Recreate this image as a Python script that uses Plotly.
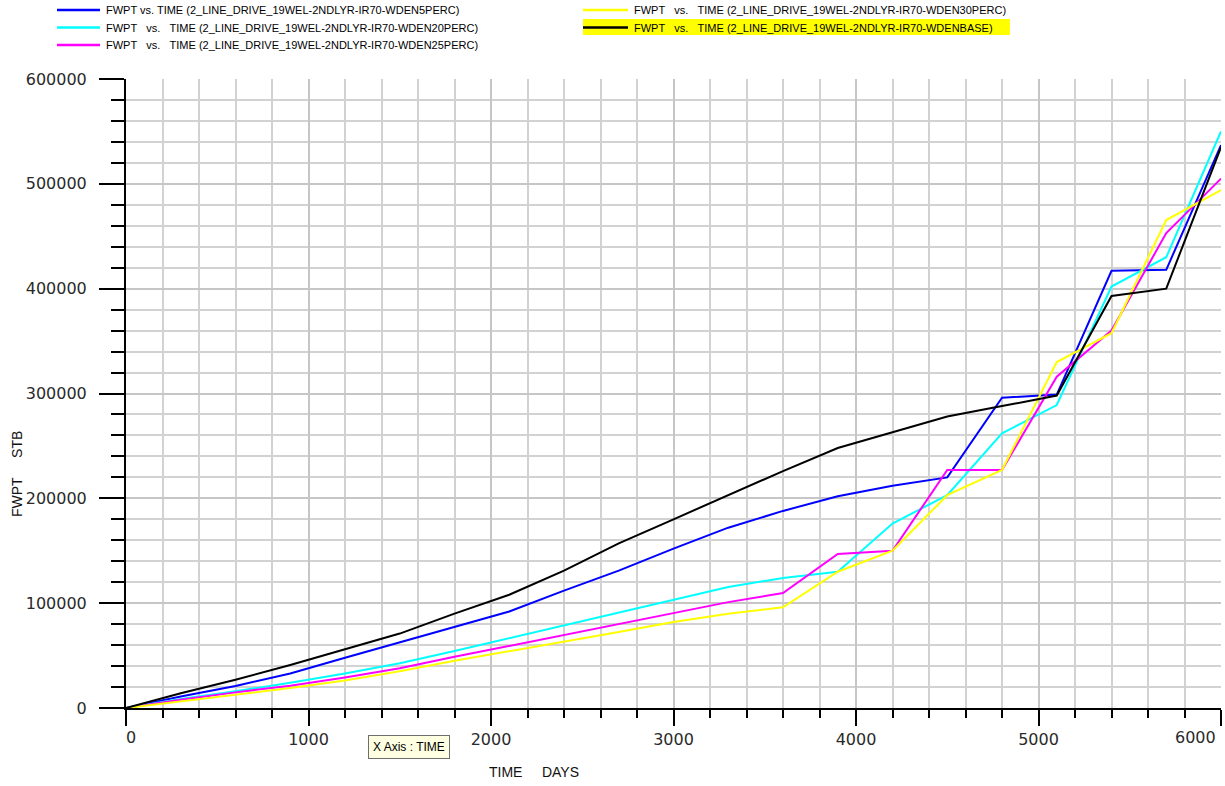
import plotly.graph_objects as go

# Simulation report times (days)
time_days = [0, 300, 600, 900, 1200, 1500, 1800, 2100, 2400, 2700, 3000,
             3300, 3600, 3900, 4200, 4500, 4800, 5100, 5400, 5700, 6000]

# Field water production total (STB) per case
fwpt_wden5 = [0, 11000, 21000, 33000, 48000, 62500, 77000, 92000, 112000, 131000, 152000,
              172000, 188000, 202000, 212000, 220000, 296000, 299000, 417000, 418000, 537000]
fwpt_wden20 = [0, 8600, 16000, 24000, 33000, 42700, 54400, 66600, 78800, 91000, 103000,
               115500, 124000, 130000, 176000, 203000, 262000, 289000, 402000, 430000, 550000]
fwpt_wden25 = [0, 7900, 14900, 21300, 29200, 38000, 48800, 59200, 69700, 80000, 90500,
               101000, 109600, 147000, 150000, 227000, 227000, 316000, 360000, 453000, 505000]
fwpt_wden30 = [0, 6300, 12700, 19000, 26300, 35000, 45000, 54000, 63000, 72500, 82000,
               90000, 96000, 130000, 150000, 203000, 227000, 330000, 357500, 465500, 494000]
fwpt_wdenbase = [0, 14000, 27000, 41000, 56000, 71000, 90000, 108000, 131000, 157000, 180000,
                 203000, 226000, 248000, 263000, 278000, 288000, 298000, 393000, 400000, 535000]

SP3 = "\u00a0\u00a0\u00a0"
series_names = [
    "FWPT vs. TIME (2_LINE_DRIVE_19WEL-2NDLYR-IR70-WDEN5PERC)",
    f"FWPT{SP3}vs.{SP3}TIME (2_LINE_DRIVE_19WEL-2NDLYR-IR70-WDEN20PERC)",
    f"FWPT{SP3}vs.{SP3}TIME (2_LINE_DRIVE_19WEL-2NDLYR-IR70-WDEN25PERC)",
    f"FWPT{SP3}vs.{SP3}TIME (2_LINE_DRIVE_19WEL-2NDLYR-IR70-WDEN30PERC)",
    f"FWPT{SP3}vs.{SP3}TIME (2_LINE_DRIVE_19WEL-2NDLYR-IR70-WDENBASE)",
]
series_values = [fwpt_wden5, fwpt_wden20, fwpt_wden25, fwpt_wden30, fwpt_wdenbase]
series_colors = ["#0000ff", "#00ffff", "#ff00ff", "#ffff00", "#000000"]

x_tick_vals = [0, 1000, 2000, 3000, 4000, 5000, 6000]
x_tick_text = ["", "1000", "2000", "3000", "4000", "5000", ""]

W, H = 1225, 786
ML, MR, MT, MB = 126, 4, 79, 78
PW, PH = W - ML - MR, H - MT - MB


def px(x):
    return (x - ML) / PW


def py(y):
    return (H - MB - y) / PH


fig = go.Figure()
for name, vals, col in zip(series_names, series_values, series_colors):
    fig.add_trace(go.Scatter(x=time_days, y=vals, mode="lines", name=name,
                             line=dict(color=col, width=2), showlegend=False))

tick_font = dict(family="DejaVu Sans", size=16, color="#2a2a2a")
label_font = dict(family="Liberation Sans, Arial", size=11, color="#000000")

fig.update_layout(
    width=W, height=H, autosize=False,
    margin=dict(l=ML, r=MR, t=MT, b=MB, pad=0),
    paper_bgcolor="white", plot_bgcolor="white",
    xaxis=dict(
        range=[0, 6000], tickmode="array", tickvals=x_tick_vals, ticktext=x_tick_text,
        ticks="outside", ticklen=16, tickwidth=2, tickcolor="black",
        showline=True, linecolor="black", linewidth=2, zeroline=False,
        showgrid=True, gridcolor="#c6c6c6", gridwidth=2,
        tickfont=tick_font,
        minor=dict(tick0=0, dtick=200, ticks="outside", ticklen=8, tickwidth=1.5,
                   tickcolor="black", showgrid=True, gridcolor="#d2d2d2", gridwidth=1.5),
    ),
    yaxis=dict(
        range=[0, 600000], tick0=0, dtick=100000, tickformat="d",
        ticks="outside", ticklen=25, tickwidth=2, tickcolor="black",
        showline=True, linecolor="black", linewidth=2, zeroline=False,
        showgrid=True, gridcolor="#c6c6c6", gridwidth=2,
        tickfont=tick_font, ticklabelstandoff=9,
        minor=dict(tick0=0, dtick=20000, ticks="outside", ticklen=13, tickwidth=1.5,
                   tickcolor="black", showgrid=True, gridcolor="#d2d2d2", gridwidth=1.5),
    ),
)

# Edge tick labels on the time axis, pulled inside the frame
fig.add_annotation(x=0, y=0, xref="x", yref="y", text="0", showarrow=False,
                   xanchor="center", yanchor="top", xshift=5, yshift=-18, font=tick_font)
fig.add_annotation(x=6000, y=0, xref="x", yref="y", text="6000", showarrow=False,
                   xanchor="center", yanchor="top", xshift=-26, yshift=-18, font=tick_font)

# Axis titles
fig.add_annotation(x=px(533.5), y=py(772), xref="paper", yref="paper",
                   text="TIME\u00a0\u00a0\u00a0\u00a0\u00a0DAYS", showarrow=False,
                   xanchor="center", yanchor="middle",
                   font=dict(family="Liberation Sans, Arial", size=14, color="#111111"))
fig.add_annotation(x=px(17.5), y=py(474.5), xref="paper", yref="paper",
                   text="FWPT\u00a0\u00a0\u00a0\u00a0\u00a0STB", showarrow=False, textangle=-90,
                   xanchor="center", yanchor="middle",
                   font=dict(family="Liberation Sans, Arial", size=14, color="#111111"))

# Axis hint box
fig.add_annotation(x=px(368), y=py(747), xref="paper", yref="paper",
                   text="X Axis : TIME", showarrow=False, xanchor="left", yanchor="middle",
                   bgcolor="#ffffe1", bordercolor="#6e6e6e", borderwidth=1, borderpad=4,
                   font=dict(family="Liberation Sans, Arial", size=12, color="#000000"))

# Key: two columns of line samples with labels
key_rows = [
    (57, 100, 104, 10.0),
    (57, 100, 104, 27.5),
    (57, 100, 104, 45.0),
    (583, 628, 632, 10.0),
    (583, 628, 632, 27.5),
]
fig.add_shape(type="rect", xref="paper", yref="paper",
              x0=px(583), x1=px(1010), y0=py(35), y1=py(19),
              fillcolor="#ffff00", line=dict(width=0), layer="below")
for (x0, x1, xt, yy), name, col in zip(key_rows, series_names, series_colors):
    fig.add_shape(type="line", xref="paper", yref="paper",
                  x0=px(x0), x1=px(x1), y0=py(yy), y1=py(yy),
                  line=dict(color=col, width=2.5))
    fig.add_annotation(x=px(xt), y=py(yy), xref="paper", yref="paper", text=name,
                       showarrow=False, xanchor="left", yanchor="middle", font=label_font)

fig.write_html("out.html", config={"displayModeBar": False})
